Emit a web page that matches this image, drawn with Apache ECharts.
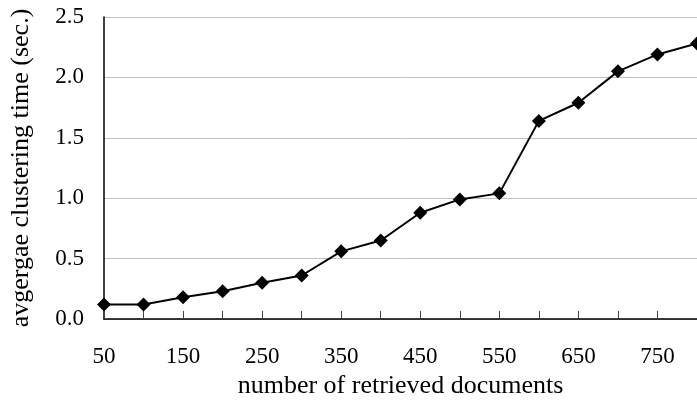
<!DOCTYPE html>
<html>
<head>
<meta charset="utf-8">
<script src="https://cdn.jsdelivr.net/npm/echarts@6/dist/echarts.min.js"></script>
<style>
  html, body { margin: 0; padding: 0; background: #fff; }
  #chart { width: 697px; height: 404px; }
</style>
</head>
<body>
<div id="chart"></div>
<script>
// number of retrieved documents
const docCounts = ['50', '100', '150', '200', '250', '300', '350', '400',
  '450', '500', '550', '600', '650', '700', '750', '800'];
// average clustering time (sec.)
const clusterTimes = [0.12, 0.12, 0.18, 0.23, 0.30, 0.36, 0.56, 0.65,
  0.88, 0.99, 1.04, 1.64, 1.79, 2.05, 2.19, 2.28];

const myChart = echarts.init(document.getElementById('chart'));
const serif = 'Liberation Serif';

const option = {
  animation: false,
  grid: {
    left: 103,
    right: -6, // plot runs past the right edge, like the original crop
    top: 17,
    bottom: 85,
  },
  xAxis: {
    type: 'category',
    data: docCounts,
    boundaryGap: false,
    name: 'number of retrieved documents',
    nameLocation: 'middle',
    nameGap: 52,
    nameTextStyle: { fontFamily: serif, fontSize: 26, color: '#000' },
    axisLine: { lineStyle: { color: '#000', width: 1.5 } },
    axisTick: { inside: true, length: 8, interval: 0, lineStyle: { color: '#444' } },
    axisLabel: {
      interval: 1,
      margin: 26,
      fontFamily: serif,
      fontSize: 23,
      color: '#000',
    },
    splitLine: { show: false },
  },
  yAxis: {
    type: 'value',
    min: 0,
    max: 2.5,
    interval: 0.5,
    name: 'avgergae clustering time (sec.)',
    nameLocation: 'middle',
    nameGap: 70,
    nameTextStyle: { fontFamily: serif, fontSize: 26, color: '#000' },
    axisLine: { show: true, lineStyle: { color: '#000', width: 1.5 } },
    axisTick: { show: false },
    axisLabel: {
      margin: 20,
      fontFamily: serif,
      fontSize: 23,
      color: '#000',
      formatter: (v) => v.toFixed(1),
    },
    splitLine: { lineStyle: { color: '#c0c0c0', width: 1 } },
  },
  series: [
    {
      type: 'line',
      data: clusterTimes,
      symbol: 'diamond',
      symbolSize: 14,
      itemStyle: { color: '#000' },
      lineStyle: { color: '#000', width: 2 },
    },
  ],
};

myChart.setOption(option);
</script>
</body>
</html>
